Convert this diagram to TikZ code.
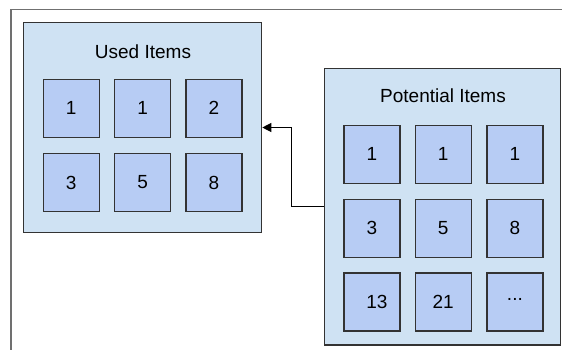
\documentclass[tikz,border=0pt]{standalone}
\usepackage{fontspec}
\setmainfont{Liberation Sans}
\usetikzlibrary{arrows.meta}
\definecolor{panelfill}{HTML}{CFE2F3}
\definecolor{itemfill}{HTML}{B7CCF4}
\definecolor{edge}{HTML}{333333}
\definecolor{framegray}{HTML}{707070}
\tikzset{
  panel/.style={draw=edge, line width=1.2pt, fill=panelfill, inner sep=0pt},
  item/.style={draw=edge, line width=1.2pt, fill=itemfill, minimum width=56pt, minimum height=58pt, inner sep=0pt, font=\fontsize{19}{23}\selectfont},
  ttl/.style={font=\fontsize{19}{23}\selectfont, inner sep=0pt},
  conn/.style={line width=1pt, draw=black, -{Triangle[length=9pt,width=9pt]}}
}
\begin{document}
\begin{tikzpicture}[x=1pt,y=-1pt]
\useasboundingbox (0,0) rectangle (562,349);
% outer frame
\draw[framegray, line width=1.8pt] (11,352) -- (11,9.5) -- (565,9.5);
% used panel
\node[panel, minimum width=238.4pt, minimum height=210.4pt] (used) at (142.5,127.5) {};
\node[ttl] (usedt) at (143,51.5) {Used Items};
\node[item] (u1) at (71.2,108.3) {1};
\node[item] (u2) at (142.7,108.3) {1};
\node[item] (u3) at (213.9,108.3) {2};
\node[item] (u4) at (71.2,182.5) {3};
\node[item] (u5) at (142.7,182.5) {5};
\node[item] (u6) at (213.9,182.5) {8};
% potential panel
\node[panel, minimum width=236.4pt, minimum height=276.7pt] (pot) at (442.5,206.7) {};
\node[ttl] (pott) at (443,96) {Potential Items};
\node[item] (p1) at (371.9,154.3) {1};
\node[item] (p2) at (443.2,154.3) {1};
\node[item] (p3) at (514.9,154.3) {1};
\node[item] (p4) at (371.9,228.3) {3};
\node[item] (p5) at (443.2,228.3) {5};
\node[item] (p6) at (514.9,228.3) {8};
\node[item] (p7) at (371.9,302) {\hspace*{10pt}13};
\node[item] (p8) at (443.2,302) {21};
\node[item] (p9) at (514.9,302) {\raisebox{5pt}{...}};
% connector
\coordinate (bend) at (291.7,206.7);
\draw[conn] (pot.west) -- (bend) |- (used.east);
\end{tikzpicture}
\end{document}
